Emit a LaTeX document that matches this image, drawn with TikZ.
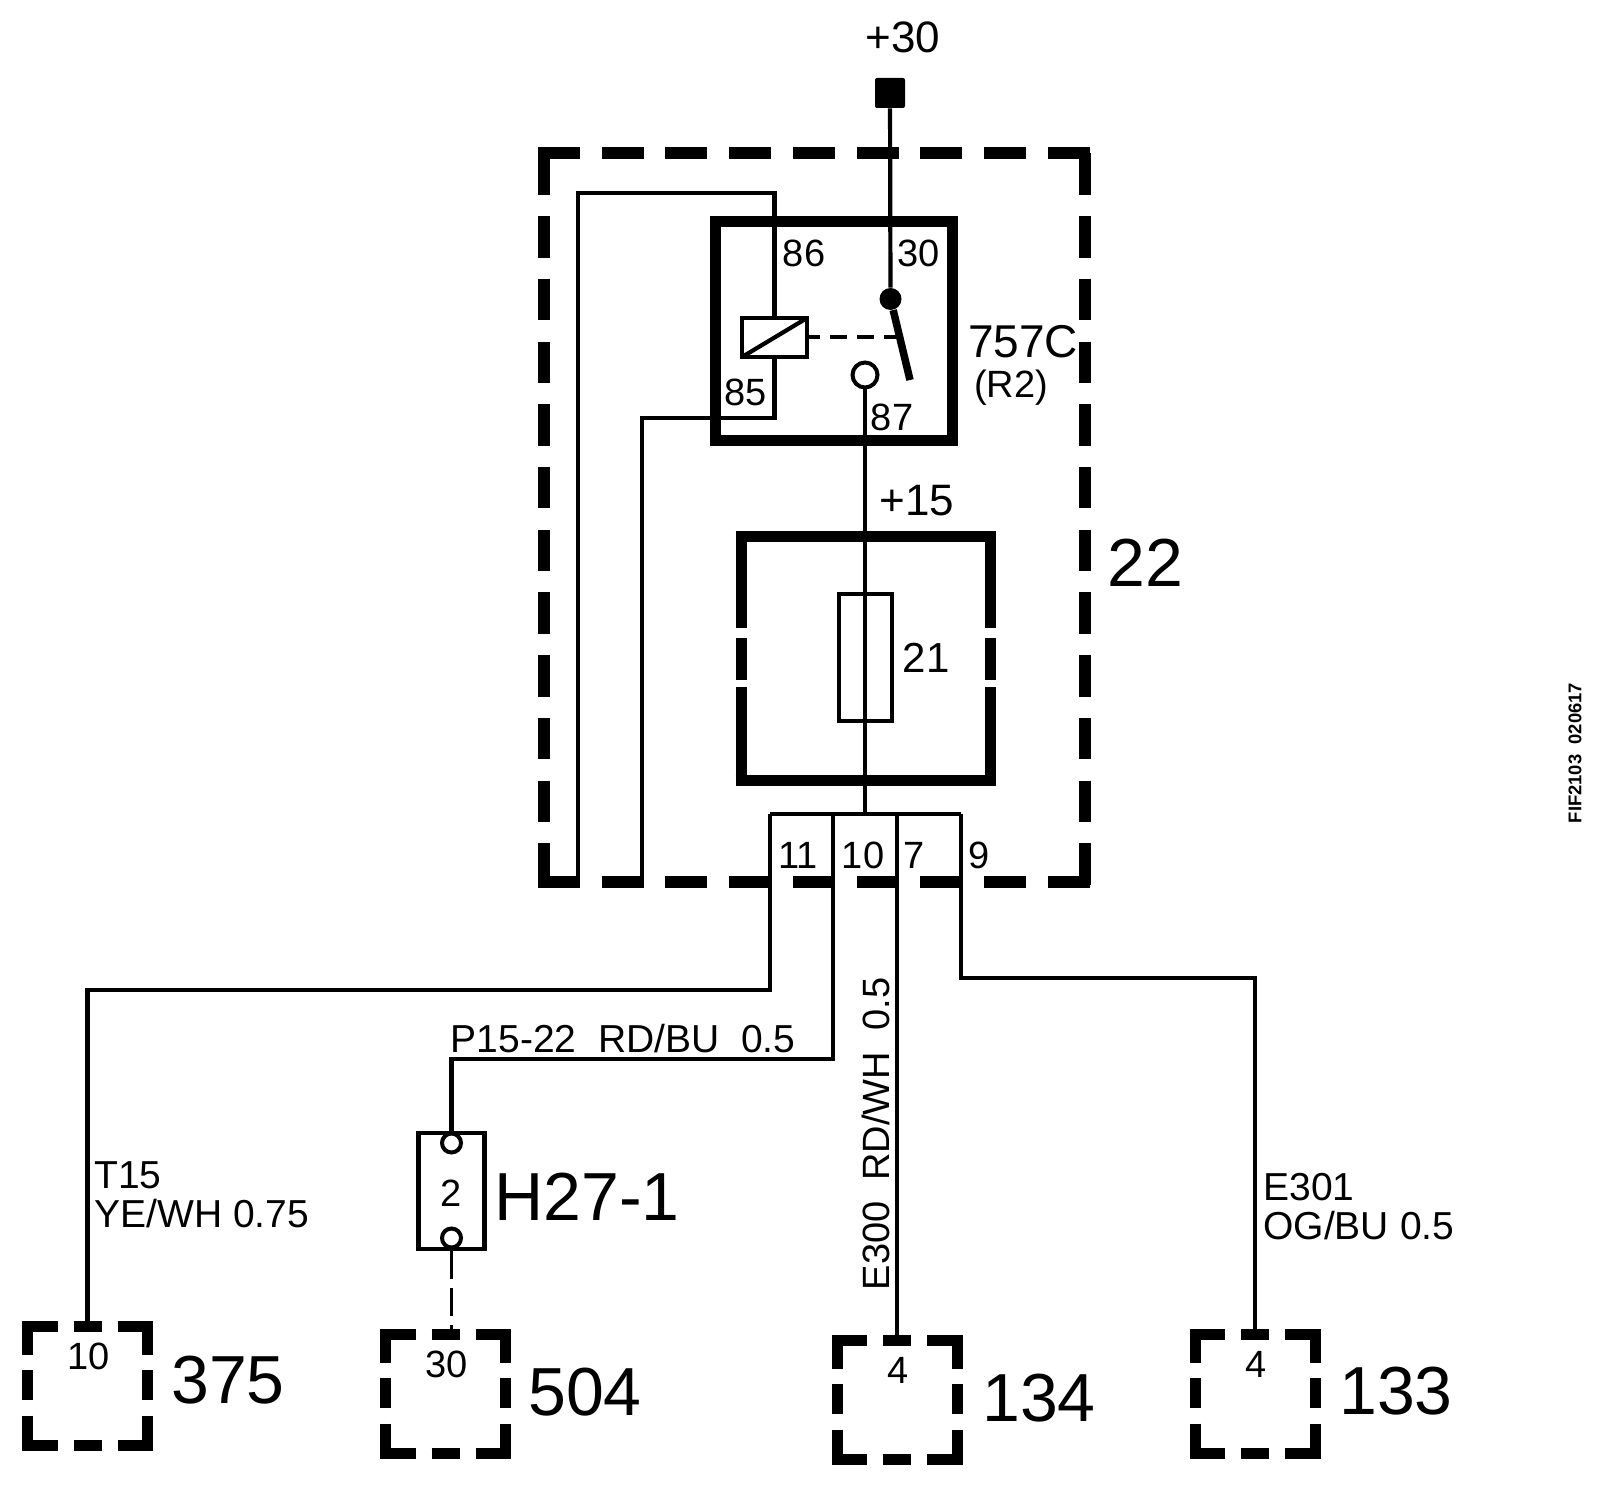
\documentclass[tikz,border=0pt]{standalone}
\usepackage{fontspec}
\setmainfont{Liberation Sans}
\usetikzlibrary{positioning}

\tikzset{
    wire/.style={line width=2.1pt},
    heavy/.style={line width=5.5pt},
    cabinet/.style={line width=5.8pt, dash pattern=on 21pt off 10.85pt},
    cabinetside/.style={line width=5.8pt, dash pattern=on 20.75pt off 10.6pt},
    ecu/.style={rectangle, minimum width=60pt, minimum height=58.5pt, inner sep=0pt},
    eculine/.style={line width=5.5pt},
    pinnum/.style={inner sep=0pt, font=\fontsize{19}{19.5}\selectfont},
    wirelabel/.style={inner sep=0pt, font=\fontsize{19.5}{19.5}\selectfont},
    tagbig/.style={inner sep=0pt, font=\fontsize{34}{34}\selectfont},
    supply/.style={inner sep=0pt, font=\fontsize{22}{22}\selectfont},
    terminal/.style={circle, draw, line width=2pt, inner sep=0pt, fill=white}
}

% dashed control unit box with its pin number
\newcommand{\ecubox}[4]{
    \node[ecu] (#1) at (#2,#3) {};
    \begin{scope}[shift={(#2,#3)}]
        \draw[eculine] (-60,-30.5) |- (-30,-58.5);
        \draw[eculine] (30,-58.5) -| (60,-30.5);
        \draw[eculine] (-60,30.5) |- (-30,60.5);
        \draw[eculine] (30,60.5) -| (60,30.5);
        \draw[eculine] (-14,-58.5) -- (14,-58.5);
        \draw[eculine] (-14,60.5) -- (14,60.5);
        \draw[eculine] (-60,-15) -- (-60,15);
        \draw[eculine] (60,-15) -- (60,15);
        \node[pinnum] (#1pin) at (1,-29) {#4};
    \end{scope}
}

\begin{document}
\begin{tikzpicture}[x=0.5pt, y=-0.5pt]
    \useasboundingbox (0,0) rectangle (1600,1486);
    \begin{scope}
        % Outer dashed box
        \draw[cabinet] (538,153) -- (1091,153);
        \draw[cabinet] (538,882) -- (1091,882);
        \draw[cabinetside] (544,153.5) -- (544,888);
        \draw[cabinetside] (1085,153.5) -- (1085,888);
        \node[tagbig] (box22) at (1145,563) {22};

        % Supply
        \node[supply] (plus30) at (903,37) {+30};
        \node[rectangle, fill=black, inner sep=0pt, minimum size=15pt, rounded corners=1pt] (bat30) at (890,93) {};

        % Relay
        \node[rectangle, draw, heavy, inner sep=0pt, minimum width=118.5pt, minimum height=109.5pt] (relay) at (833.5,331.5) {};
        \node[rectangle, draw, line width=2.2pt, inner sep=0pt, outer sep=0pt, minimum width=32.5pt, minimum height=19.5pt] (coil) at (774.5,337.5) {};
        \draw[wire] (coil.south west) -- (coil.north east);
        \node[circle, fill=black, inner sep=0pt, minimum size=11pt] (contact) at (890.5,299) {};
        \node[terminal, minimum size=12.5pt] (out87) at (865,375) {};
        \coordinate (armend) at (910,380);
        \coordinate (linkend) at (897,337.5);
        \draw[line width=3.75pt] (contact) -- (armend);
        \draw[line width=2pt, dash pattern=on 8.5pt off 5pt, dash phase=2pt] (coil.east) -- (linkend);
        \node[pinnum] (pin86) at (804,253) {86};
        \node[pinnum] (pin30) at (918.5,253) {30};
        \node[pinnum] (pin85) at (745.5,392) {85};
        \node[pinnum] (pin87) at (892,417) {87};
        \node[inner sep=0pt, font=\fontsize{23}{23}\selectfont] (r757) at (1023,342) {757C};
        \node[pinnum] (r2) at (1011,388) {(R2)};

        % Fuse
        \node[rectangle, inner sep=0pt, outer sep=0pt, minimum width=124.5pt, minimum height=121.5pt] (frame21) at (865.5,658.5) {};
        \draw[heavy] (frame21.north west) ++(-2.75pt,0) -- ([xshift=2.75pt]frame21.north east);
        \draw[heavy] (frame21.south west) ++(-2.75pt,0) -- ([xshift=2.75pt]frame21.south east);
        \draw[heavy] (741,537) -- (741,628) (741,638) -- (741,680) (741,687) -- (741,780);
        \draw[heavy] (990,537) -- (990,628) (990,638) -- (990,680) (990,687) -- (990,780);
        \node[rectangle, draw, line width=2.1pt, inner sep=0pt, minimum width=26.5pt, minimum height=63.5pt] (fuse) at (865.5,657.5) {};
        \node[pinnum, font=\fontsize{21}{21}\selectfont] (num21) at (926,658) {21};
        \node[supply] (plus15) at (917,501) {+15};

        % Terminal strip
        \coordinate (t11) at (770,814);
        \coordinate (t10) at (833,814);
        \coordinate (tmid) at (865,814);
        \coordinate (t7) at (897,814);
        \coordinate (t9) at (961,814);
        \draw[wire] (t11) -- (t9);
        \node[pinnum] (pin11) at (798,855) {11};
        \node[pinnum] (pin10) at (863,855) {10};
        \node[pinnum] (pin7) at (914,855) {7};
        \node[pinnum] (pin9) at (979,855) {9};

        % Connector
        \node[rectangle, draw, line width=2.2pt, inner sep=0pt, minimum width=33pt, minimum height=58pt] (h27) at (451.5,1191) {};
        \node[terminal, minimum size=9.5pt] (h27top) at (451.5,1143) {};
        \node[terminal, minimum size=9.5pt] (h27bot) at (451.5,1238) {};
        \node[pinnum] (h27pin) at (451.5,1193) {2};
        \node[tagbig] (h27tag) at (587,1197) {H27-1};

        % Control units
        \ecubox{ecu375}{87.5}{1385}{10}
        \ecubox{ecu504}{445.5}{1393}{30}
        \ecubox{ecu134}{897}{1399}{4}
        \ecubox{ecu133}{1255}{1393}{4}
        \node[tagbig] (tag375) at (228,1380) {375};
        \node[tagbig] (tag504) at (585,1392) {504};
        \node[tagbig] (tag134) at (1039,1398) {134};
        \node[tagbig] (tag133) at (1396,1391) {133};

        % Connections
        \coordinate (bend86) at (774.5,193);
        \coordinate (side86) at (578,882);
        \coordinate (bend85) at (774.5,418);
        \coordinate (side85) at (642,882);
        \coordinate (bend11) at (87.5,990);
        \coordinate (bend10) at (451.5,1059);
        \coordinate (bend9) at (1255,978);
        \draw[wire] (bat30) -- (contact);
        \draw[wire] (coil.north) -- (bend86) -| (side86);
        \draw[wire] (coil.south) -- (bend85) -| (side85);
        \draw[wire] (out87) -- (tmid);
        \draw[wire] (t11) |- (bend11) -- (ecu375.north);
        \draw[wire] (t10) |- (bend10) -- (h27top);
        \draw[wire] (t7) -- (ecu134.north);
        \draw[wire] (t9) |- (bend9) -- (ecu133.north);
        \draw[line width=1.8pt, dash pattern=on 14pt off 4.5pt] (h27.south) -- (h27.south |- ecu504.north);

        % Wire labels
        \node[wirelabel] (lblp15) at (623,1039) {P15-22~~RD/BU~~0.5};
        \node[wirelabel, anchor=north west, align=left] (lblt15) at (94,1161) {T15\\YE/WH 0.75};
        \node[wirelabel, anchor=north west, align=left] (lble301) at (1263,1173) {E301\\OG/BU\hspace{5.5pt}0.5};
        \node[pinnum, rotate=90] (lble300) at (876,1134) {E300~~RD/WH~~0.5};
        \node[inner sep=0pt, rotate=90, font=\bfseries\fontsize{9.2}{9.2}\selectfont] (stamp) at (1575,753) {FIF2103~~020617};
    \end{scope}
\end{tikzpicture}
\end{document}
